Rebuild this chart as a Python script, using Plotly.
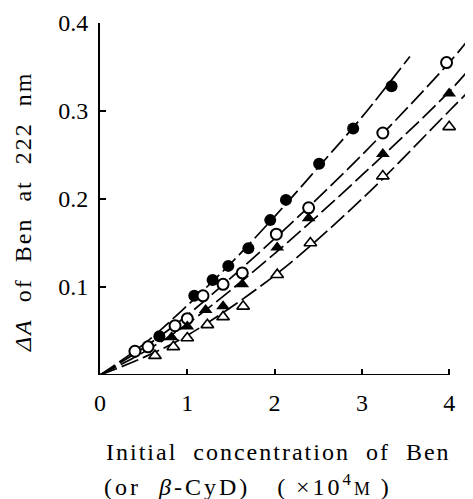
import plotly.graph_objects as go

# ---- data ----
x_filled_circle = [0.68, 1.08, 1.29, 1.47, 1.70, 1.95, 2.13, 2.51, 2.90, 3.34]
y_filled_circle = [0.044, 0.090, 0.108, 0.124, 0.144, 0.176, 0.199, 0.240, 0.280, 0.328]

x_open_circle = [0.40, 0.55, 0.86, 1.00, 1.18, 1.41, 1.63, 2.02, 2.39, 3.24, 3.97]
y_open_circle = [0.027, 0.032, 0.056, 0.064, 0.090, 0.103, 0.116, 0.160, 0.190, 0.275, 0.355]

x_filled_tri = [0.82, 1.00, 1.21, 1.41, 1.63, 2.03, 2.39, 3.24, 4.00]
y_filled_tri = [0.043, 0.055, 0.074, 0.078, 0.103, 0.145, 0.178, 0.251, 0.320]

x_open_tri = [0.63, 0.84, 1.00, 1.23, 1.41, 1.64, 2.03, 2.41, 3.24, 4.00]
y_open_tri = [0.022, 0.032, 0.042, 0.057, 0.066, 0.078, 0.114, 0.150, 0.226, 0.282]

# fitted curves
curve_fc_x = [0, 0.5, 1.0, 1.5, 2.0, 2.5, 3.0, 3.55]
curve_fc_y = [0, 0.035, 0.079, 0.127, 0.180, 0.236, 0.293, 0.362]
curve_oc_x = [0, 0.5, 1.0, 2.0, 3.0, 4.0, 4.22]
curve_oc_y = [0, 0.031, 0.068, 0.155, 0.250, 0.355, 0.381]
curve_ft_x = [0, 0.5, 1.0, 2.0, 3.0, 4.0, 4.25]
curve_ft_y = [0, 0.026, 0.058, 0.138, 0.227, 0.322, 0.350]
curve_ot_x = [0, 0.5, 1.0, 2.0, 3.0, 4.0, 4.22]
curve_ot_y = [0, 0.020, 0.045, 0.113, 0.200, 0.300, 0.322]

x_ticks = [0, 1, 2, 3, 4]
y_ticks = [0.1, 0.2, 0.3, 0.4]
y_tick_labels = ["0.1", "0.2", "0.3", "0.4"]

FONT = "Liberation Serif"
DASH = "18px,5px"

fig = go.Figure()

for cx, cy in [(curve_fc_x, curve_fc_y), (curve_oc_x, curve_oc_y),
               (curve_ft_x, curve_ft_y), (curve_ot_x, curve_ot_y)]:
    fig.add_trace(go.Scatter(x=cx, y=cy, mode="lines", line_shape="spline",
                             line=dict(color="black", width=1.7, dash=DASH),
                             hoverinfo="skip", showlegend=False, cliponaxis=False))

fig.add_trace(go.Scatter(x=x_filled_circle, y=y_filled_circle, mode="markers",
                         marker=dict(symbol="circle", size=12, color="black"),
                         showlegend=False))
fig.add_trace(go.Scatter(x=x_open_circle, y=y_open_circle, mode="markers",
                         marker=dict(symbol="circle", size=11, color="white",
                                     line=dict(color="black", width=2)),
                         showlegend=False))
fig.add_trace(go.Scatter(x=x_filled_tri, y=y_filled_tri, mode="markers",
                         marker=dict(symbol="triangle-up", size=12, color="black"),
                         showlegend=False))
fig.add_trace(go.Scatter(x=x_open_tri, y=y_open_tri, mode="markers",
                         marker=dict(symbol="triangle-up", size=11, color="white",
                                     line=dict(color="black", width=1.6)),
                         showlegend=False))

# x axis line only spans 0..4
fig.add_shape(type="line", xref="x", yref="y", x0=x_ticks[0], x1=x_ticks[-1], y0=0, y1=0,
              line=dict(color="black", width=2))

fig.update_xaxes(range=[0, 4.25], showline=False, zeroline=False, showgrid=False,
                 tickvals=x_ticks, ticks="inside", ticklen=6, tickwidth=1.5,
                 tickcolor="black", ticklabelstandoff=11,
                 tickfont=dict(family=FONT, size=24, color="black"))
fig.update_yaxes(range=[0, 0.4], showline=True, linecolor="black", linewidth=2,
                 zeroline=False, showgrid=False,
                 tickvals=y_ticks, ticktext=y_tick_labels, ticks="inside",
                 ticklen=6, tickwidth=1.5, tickcolor="black", ticklabelstandoff=5,
                 tickfont=dict(family=FONT, size=24, color="black"))

ls = "letter-spacing:2px"
fig.add_annotation(xref="paper", yref="paper", x=0, y=0, xanchor="left", yanchor="middle",
                   xshift=4, yshift=-77, showarrow=False,
                   text=f"<span style='{ls}'>Initial  concentration  of  Ben</span>",
                   font=dict(family=FONT, size=24, color="black"))
fig.add_annotation(xref="paper", yref="paper", x=0, y=0, xanchor="left", yanchor="middle",
                   xshift=2, yshift=-110, showarrow=False,
                   text=f"<span style='letter-spacing:3px'>(or  <i>β</i>-CyD)   (\u2009×10<sup>4</sup><span style='font-size:18px'>M</span>\u2009)</span>",
                   font=dict(family=FONT, size=24, color="black"))
fig.add_annotation(xref="paper", yref="paper", x=0, y=0.463, xanchor="center", yanchor="middle",
                   xshift=-77, showarrow=False, textangle=-90,
                   text=f"<span style='{ls}'><i>ΔA</i>  of  Ben  at  222  nm</span>",
                   font=dict(family=FONT, size=24, color="black"))

# body has an 8px default margin, so the figure is 8px smaller and shifted
fig.update_layout(width=465, height=491, margin=dict(l=92, r=2, t=15, b=124),
                  plot_bgcolor="white", paper_bgcolor="white")

fig.write_html("out.html")
